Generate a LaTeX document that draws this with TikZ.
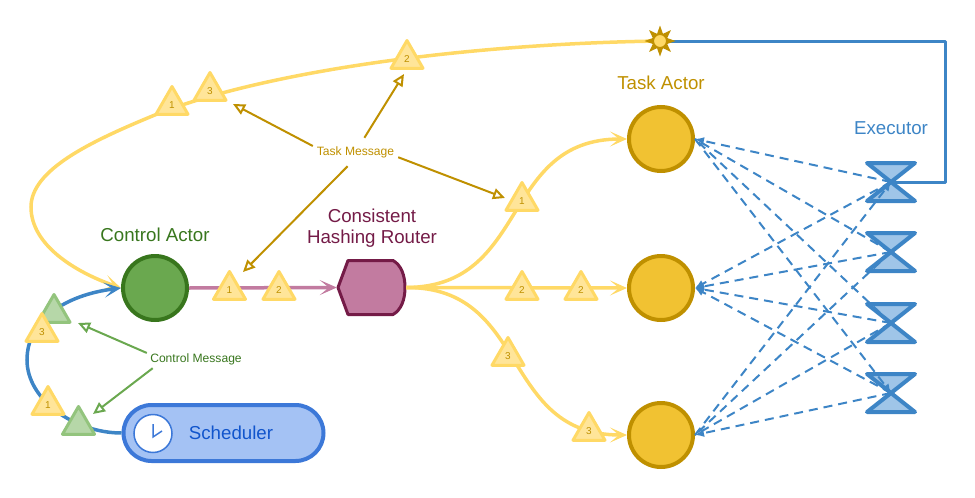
\documentclass[tikz,border=0pt]{standalone}
\usepackage{fontspec}
\setmainfont{Liberation Sans}
\usetikzlibrary{arrows.meta,shapes.geometric}
\definecolor{gold}{HTML}{BF9000}
\definecolor{amber}{HTML}{F1C232}
\definecolor{sand}{HTML}{FFD966}
\definecolor{cream}{HTML}{FFE599}
\definecolor{leaf}{HTML}{38761D}
\definecolor{grass}{HTML}{6AA84F}
\definecolor{sage}{HTML}{93C47D}
\definecolor{mint}{HTML}{B6D7A8}
\definecolor{wine}{HTML}{741B47}
\definecolor{rose}{HTML}{C27BA0}
\definecolor{steel}{HTML}{3D85C6}
\definecolor{sky}{HTML}{9FC5E8}
\definecolor{royal}{HTML}{3C78D8}
\definecolor{navy}{HTML}{1155CC}
\definecolor{pale}{HTML}{A4C2F4}
\tikzset{
	bigtext/.style={font=\fontsize{18.7}{21}\selectfont,align=center},
	smalltext/.style={font=\fontsize{12.1}{14}\selectfont,inner sep=0},
	actor/.style={circle,draw=gold,fill=amber,line width=4,minimum size=64,inner sep=0},
	msg/.style={regular polygon,regular polygon sides=3,minimum size=37,inner sep=0,
		line width=3,line join=round,draw=sand,fill=cream,text=gold,
		font=\fontsize{10}{10}\selectfont},
	ctrlmsg/.style={msg,draw=sage,fill=mint},
	flow/.style={line width=3.5,-{Stealth[length=17pt,width=15pt,inset=9pt]}},
	note/.style={line width=2,-{Triangle[open,length=12pt,width=11pt,line width=2pt]}},
	call/.style={line width=2,steel,dash pattern=on 9 off 6,-{Latex[length=9pt,width=8pt]}},
	callplain/.style={line width=2,steel,dash pattern=on 9 off 6},
}
\begin{document}
\begin{tikzpicture}[
	y=-1pt,
	x=1pt,
	scale=1]
\useasboundingbox (0,0) rectangle (975,498);

\def\hourglass(#1,#2){
\path[fill=sky,draw=steel,line width=4,line join=round]
    (867,#2-19) -- (915,#2-19) -- (867,#2+19) -- (915,#2+19) -- cycle;
\node[inner sep=0,minimum size=4] (#1) at (891,#2) {};
}

% labels
\node[bigtext,text=leaf] (ctrllabel) at (155,235) {Control Actor};
\node[bigtext,text=wine] (routerlabel) at (372,228) {Consistent\\Hashing Router};
\node[bigtext,text=gold] (tasklabel) at (661,83) {Task Actor};
\node[bigtext,text=steel] (execlabel) at (891,128) {Executor};

% actors
\node[circle,draw=leaf,fill=grass,line width=4,minimum size=64,inner sep=0]
    (ctrl) at (155,288) {};
\node[actor] (task1) at (661,139) {};
\node[actor] (task2) at (661,288) {};
\node[actor] (task3) at (661,435) {};

% router
\path[fill=rose,draw=wine,line width=3,line join=round] (338,287.5)
    -- (348,260.5) -- (393,260.5)
    .. controls (401,265) and (405,275) .. (405,287.5)
    .. controls (405,300) and (401,310) .. (393,314.5)
    -- (348,314.5) -- cycle;
\node[inner sep=0,minimum width=69,minimum height=55] (router) at (371.5,287.5) {};

% scheduler
\node[rounded corners=28,draw=royal,fill=pale,line width=4,minimum width=200,
    minimum height=56,inner sep=0] (sched) at (223.5,433) {};
\node[circle,draw=royal,fill=white,line width=1.5,minimum size=38,inner sep=0]
    (clock) at (153,433.5) {};
\draw[royal,line width=1.5] (153,424) -- (153,437) -- (162,431);
\node[bigtext,text=navy] (schedlabel) at (231,433) {Scheduler};

% executors
\hourglass(exec1,182)
\hourglass(exec2,252)
\hourglass(exec3,323)
\hourglass(exec4,393)

% calls
\draw[call] (exec1.center) -- (task1.east);
\draw[callplain] (exec2.center) -- (task1.east);
\draw[callplain] (exec3.center) -- (task1.east);
\draw[call] (task1.east) -- (exec4.center);
\draw[call] (exec1.center) -- (task2.east);
\draw[call] (exec2.center) -- (task2.east);
\draw[call] (exec3.center) -- (task2.east);
\draw[call] (exec4.center) -- (task2.east);
\draw[call] (task3.east) -- (exec1.center);
\draw[callplain] (exec2.center) -- (task3.east);
\draw[callplain] (exec3.center) -- (task3.east);
\draw[call] (exec4.center) -- (task3.east);

% result
\coordinate (sun) at (660,41);
\coordinate (elbow) at (945,41);
\draw[steel,line width=3,line join=round] (sun) -- (elbow) |- (exec1.center);
\draw[flow,sand] (sun)
    .. controls (450,44) and (250,75) .. (150,117)
    .. controls (90,142) and (31,170) .. (31,207)
    .. controls (31,245) and (75,272) .. (ctrl.west);
\node[star,star points=8,star point ratio=2,minimum size=31,inner sep=0,fill=gold]
    (sunray) at (sun) {};
\node[circle,draw=gold,line width=1,fill=sand,minimum size=13,inner sep=0] (suncore) at (sun) {};

% flows
\draw[flow,steel] (sched.west)
    .. controls (75,433) and (27,400) .. (27,360)
    .. controls (27,320) and (65,295) .. (ctrl.west);
\draw[flow,rose] (ctrl.east) -- (router.west);
\draw[flow,sand] (router.east) .. controls (530,287) and (500,139) .. (task1.west);
\draw[flow,sand] (router.east) -- (task2.west);
\draw[flow,sand] (router.east) .. controls (530,287) and (500,435) .. (task3.west);

% messages
\node[ctrlmsg] (ctop) at (54,313) {};
\node[ctrlmsg] (cbot) at (78.5,425) {};
\node[msg] (ltop) at (42,332) {3};
\node[msg] (lbot) at (48,405) {1};
\node[msg] (top1) at (172,105) {1};
\node[msg] (top3) at (210,91) {3};
\node[msg] (top2) at (407,59) {2};
\node[msg] (ctrl1) at (229.5,290) {1};
\node[msg] (ctrl2) at (279,290) {2};
\node[msg] (up1) at (522,201) {1};
\node[msg] (mid2a) at (522,290) {2};
\node[msg] (mid2b) at (581,290) {2};
\node[msg] (low3a) at (508,356) {3};
\node[msg] (low3b) at (589,431) {3};

% notes
\node[smalltext,text=gold,minimum width=85,minimum height=28] (taskmsg) at (355.5,152) {Task Message};
\node[smalltext,text=leaf,minimum width=98,minimum height=18] (ctrlmsgtext) at (196,359) {Control Message};
\coordinate (noteA) at (233,104);
\coordinate (noteB) at (404,74);
\coordinate (noteC) at (505,198);
\coordinate (noteD) at (243,272);
\coordinate (noteE) at (78,323);
\coordinate (noteF) at (93,414);
\draw[note,gold] (taskmsg.172) -- (noteA);
\draw[note,gold] (taskmsg.58) -- (noteB);
\draw[note,gold] (taskmsg.-7) -- (noteC);
\draw[note,gold] (taskmsg.-119) -- (noteD);
\draw[note,grass] (ctrlmsgtext.173) -- (noteE);
\draw[note,grass] (ctrlmsgtext.-168) -- (noteF);
\end{tikzpicture}
\end{document}
